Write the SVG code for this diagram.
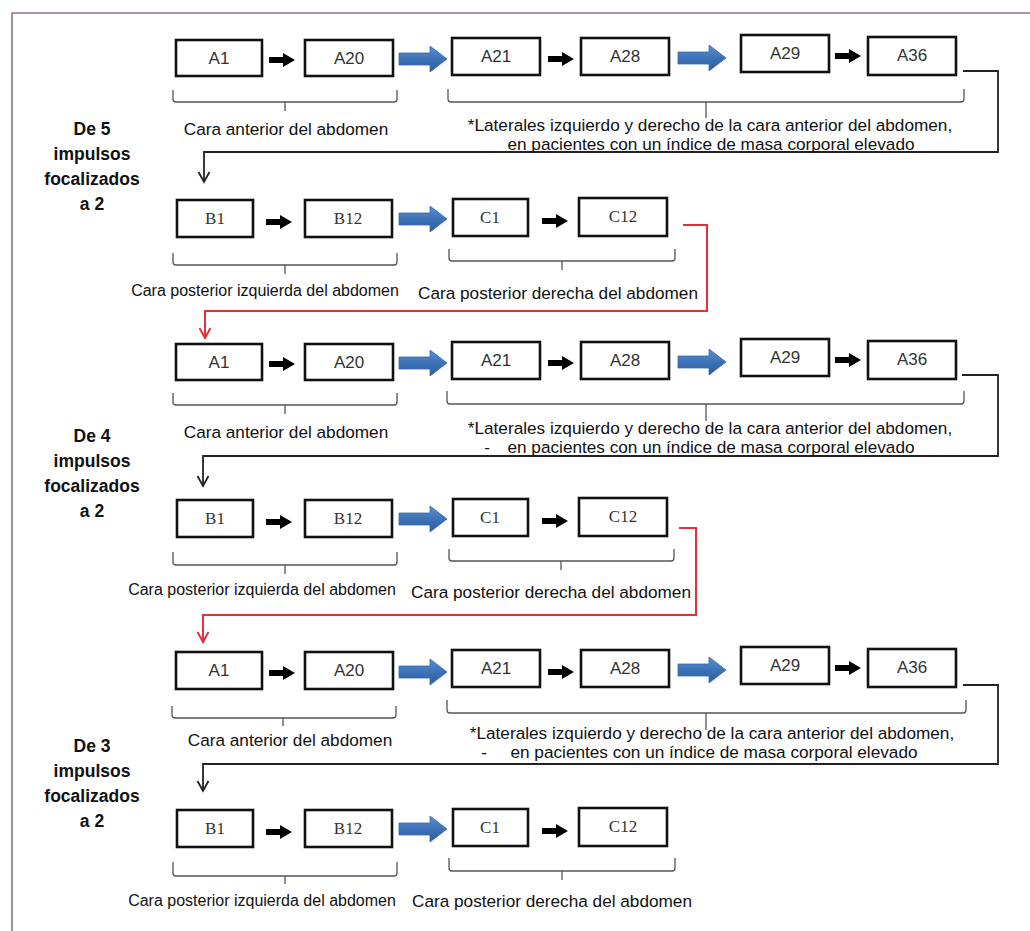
<svg xmlns="http://www.w3.org/2000/svg" width="1030" height="931" viewBox="0 0 1030 931">
<style>
.box{fill:#fff;stroke:#111;stroke-width:2.6}
.la{font-family:"Liberation Sans",Arial,sans-serif;font-size:17px;fill:#333;text-anchor:middle}
.lb{font-family:"Liberation Serif","Times New Roman",serif;font-size:17px;fill:#333;text-anchor:middle}
.cap{font-family:"Liberation Sans",Arial,sans-serif;font-size:17.2px;fill:#111;text-anchor:middle}
.caps{font-family:"Liberation Sans",Arial,sans-serif;font-size:16px;fill:#111;text-anchor:middle}
.side{font-family:"Liberation Sans",Arial,sans-serif;font-weight:bold;font-size:17.5px;fill:#111;text-anchor:middle}
.br{fill:none;stroke:#555;stroke-width:1.3}
.conn{fill:none;stroke:#222;stroke-width:1.8}
.red{fill:none;stroke:#e3303a;stroke-width:2}
.ba{fill:#000}
.bl{fill:url(#blg);stroke:#3a6aa8;stroke-width:0.8}
</style>
<defs>
<linearGradient id="blg" x1="0" y1="0" x2="0" y2="1">
<stop offset="0" stop-color="#5b8fd0"/>
<stop offset="0.5" stop-color="#3d72b8"/>
<stop offset="1" stop-color="#2c5c9c"/>
</linearGradient>
<path id="bArrow" d="M0,-3 H14 V-7 L26,0 L14,7 V3 H0 Z"/>
<path id="blArrow" d="M0,-6 H31 V-13 L48,0 L31,13 V6 H0 Z"/>
<marker id="mk" markerUnits="userSpaceOnUse" markerWidth="14" markerHeight="14" viewBox="-12 -7 14 14" refX="0" refY="0" orient="auto">
<path d="M-10,-5.5 L0,0 L-10,5.5" fill="none" stroke="#222" stroke-width="1.8"/>
</marker>
<marker id="mkr" markerUnits="userSpaceOnUse" markerWidth="14" markerHeight="14" viewBox="-12 -7 14 14" refX="0" refY="0" orient="auto">
<path d="M-10,-5.5 L0,0 L-10,5.5" fill="none" stroke="#e3303a" stroke-width="2"/>
</marker>
</defs>

<rect width="1030" height="931" fill="#fff"/>
<path d="M12,931 V13 H1030" fill="none" stroke="#8e6f86" stroke-width="1.6"/>

<!-- Section 1 row A -->
<g id="s1-A1"><rect class="box" x="176" y="40" width="86" height="36"/><text class="la" x="219" y="64">A1</text></g>
<g id="s1-A20"><rect class="box" x="305" y="40" width="88" height="36"/><text class="la" x="349" y="64">A20</text></g>
<g id="s1-A21"><rect class="box" x="452" y="38" width="88" height="37"/><text class="la" x="496" y="62">A21</text></g>
<g id="s1-A28"><rect class="box" x="581" y="38" width="88" height="37"/><text class="la" x="625" y="62">A28</text></g>
<g id="s1-A29"><rect class="box" x="741" y="35" width="88" height="37"/><text class="la" x="785" y="59">A29</text></g>
<g id="s1-A36"><rect class="box" x="868" y="37" width="88" height="38"/><text class="la" x="912" y="61">A36</text></g>
<!-- Section 1 row B -->
<g id="s1-B1"><rect class="box" x="177" y="200" width="76" height="37"/><text class="lb" x="215" y="224">B1</text></g>
<g id="s1-B12"><rect class="box" x="305" y="200" width="87" height="37"/><text class="lb" x="348" y="224">B12</text></g>
<g id="s1-C1"><rect class="box" x="453" y="199" width="75" height="37"/><text class="lb" x="490" y="223">C1</text></g>
<g id="s1-C12"><rect class="box" x="579" y="198" width="88" height="38"/><text class="lb" x="623" y="222">C12</text></g>

<!-- Section 2 row A -->
<g id="s2-A1"><rect class="box" x="176" y="344" width="86" height="36"/><text class="la" x="219" y="368">A1</text></g>
<g id="s2-A20"><rect class="box" x="305" y="344" width="88" height="36"/><text class="la" x="349" y="368">A20</text></g>
<g id="s2-A21"><rect class="box" x="452" y="342" width="88" height="37"/><text class="la" x="496" y="366">A21</text></g>
<g id="s2-A28"><rect class="box" x="581" y="342" width="88" height="37"/><text class="la" x="625" y="366">A28</text></g>
<g id="s2-A29"><rect class="box" x="741" y="339" width="88" height="37"/><text class="la" x="785" y="363">A29</text></g>
<g id="s2-A36"><rect class="box" x="868" y="341" width="88" height="38"/><text class="la" x="912" y="365">A36</text></g>
<!-- Section 2 row B -->
<g id="s2-B1"><rect class="box" x="177" y="500" width="76" height="37"/><text class="lb" x="215" y="524">B1</text></g>
<g id="s2-B12"><rect class="box" x="305" y="500" width="87" height="37"/><text class="lb" x="348" y="524">B12</text></g>
<g id="s2-C1"><rect class="box" x="453" y="499" width="75" height="37"/><text class="lb" x="490" y="523">C1</text></g>
<g id="s2-C12"><rect class="box" x="579" y="498" width="88" height="38"/><text class="lb" x="623" y="522">C12</text></g>

<!-- Section 3 row A -->
<g id="s3-A1"><rect class="box" x="176" y="652" width="86" height="37"/><text class="la" x="219" y="676">A1</text></g>
<g id="s3-A20"><rect class="box" x="305" y="652" width="88" height="37"/><text class="la" x="349" y="676">A20</text></g>
<g id="s3-A21"><rect class="box" x="452" y="650" width="88" height="37"/><text class="la" x="496" y="674">A21</text></g>
<g id="s3-A28"><rect class="box" x="581" y="650" width="88" height="37"/><text class="la" x="625" y="674">A28</text></g>
<g id="s3-A29"><rect class="box" x="741" y="647" width="88" height="37"/><text class="la" x="785" y="671">A29</text></g>
<g id="s3-A36"><rect class="box" x="868" y="649" width="88" height="38"/><text class="la" x="912" y="673">A36</text></g>
<!-- Section 3 row B -->
<g id="s3-B1"><rect class="box" x="177" y="810" width="76" height="37"/><text class="lb" x="215" y="834">B1</text></g>
<g id="s3-B12"><rect class="box" x="305" y="810" width="87" height="37"/><text class="lb" x="348" y="834">B12</text></g>
<g id="s3-C1"><rect class="box" x="453" y="809" width="75" height="37"/><text class="lb" x="490" y="833">C1</text></g>
<g id="s3-C12"><rect class="box" x="579" y="808" width="88" height="38"/><text class="lb" x="623" y="832">C12</text></g>

<g id="connectors">
<!-- small black arrows -->
<use href="#bArrow" class="ba" x="269" y="60"/>
<use href="#bArrow" class="ba" x="548" y="59"/>
<use href="#bArrow" class="ba" x="835" y="56"/>
<use href="#bArrow" class="ba" x="266" y="222"/>
<use href="#bArrow" class="ba" x="542" y="221"/>
<use href="#bArrow" class="ba" x="269" y="364"/>
<use href="#bArrow" class="ba" x="548" y="363"/>
<use href="#bArrow" class="ba" x="835" y="360"/>
<use href="#bArrow" class="ba" x="266" y="522"/>
<use href="#bArrow" class="ba" x="542" y="521"/>
<use href="#bArrow" class="ba" x="269" y="673"/>
<use href="#bArrow" class="ba" x="548" y="672"/>
<use href="#bArrow" class="ba" x="835" y="668"/>
<use href="#bArrow" class="ba" x="266" y="832"/>
<use href="#bArrow" class="ba" x="542" y="831"/>
<!-- blue arrows -->
<use href="#blArrow" class="bl" x="399" y="59"/>
<use href="#blArrow" class="bl" x="678" y="58"/>
<use href="#blArrow" class="bl" x="399" y="219"/>
<use href="#blArrow" class="bl" x="399" y="363"/>
<use href="#blArrow" class="bl" x="678" y="362"/>
<use href="#blArrow" class="bl" x="399" y="519"/>
<use href="#blArrow" class="bl" x="399" y="672"/>
<use href="#blArrow" class="bl" x="678" y="670"/>
<use href="#blArrow" class="bl" x="399" y="829"/>
<!-- return connectors -->
<path class="conn" d="M963,71 H998 V152 H204 V182" marker-end="url(#mk)"/>
<path class="red" d="M683,225 H707 V311 H205 V338" marker-end="url(#mkr)"/>
<path class="conn" d="M962,375 H998 V456 H203 V486" marker-end="url(#mk)"/>
<path class="red" d="M679,528 H696 V615 H203 V642" marker-end="url(#mkr)"/>
<path class="conn" d="M963,685 H998 V764 H203 V791" marker-end="url(#mk)"/>
</g>

<g id="brackets">
<path class="br" d="M173,90 V99 Q173,102 176,102 H394 Q397,102 397,99 V90 M285,102 V111"/>
<path class="br" d="M448,89 V99 Q448,102 451,102 H961 Q964,102 964,99 V89 M706,102 V118"/>
<path class="br" d="M173,253 V262 Q173,265 176,265 H394 Q397,265 397,262 V253 M285,265 V274"/>
<path class="br" d="M449,249 V258 Q449,261 452,261 H672 Q675,261 675,258 V249 M562,261 V270"/>
<path class="br" d="M173,393 V402 Q173,405 176,405 H394 Q397,405 397,402 V393 M285,405 V414"/>
<path class="br" d="M447,391 V401 Q447,404 450,404 H961 Q964,404 964,401 V391 M706,404 V421"/>
<path class="br" d="M173,552 V562 Q173,565 176,565 H394 Q397,565 397,562 V552 M285,565 V574"/>
<path class="br" d="M449,549 V558 Q449,561 452,561 H671 Q674,561 674,558 V549 M561,561 V570"/>
<path class="br" d="M172,706 V715 Q172,718 175,718 H393 Q396,718 396,715 V706 M283,718 V726"/>
<path class="br" d="M447,700 V710 Q447,713 450,713 H963 Q966,713 966,710 V700 M706,713 V730"/>
<path class="br" d="M173,862 V873 Q173,876 176,876 H394 Q397,876 397,873 V862 M285,876 V884"/>
<path class="br" d="M449,858 V868 Q449,871 452,871 H672 Q675,871 675,868 V858 M562,871 V880"/>
</g>

<g id="labels">
<text class="side" x="92" y="135">De 5</text>
<text class="side" x="92" y="160">impulsos</text>
<text class="side" x="92" y="185">focalizados</text>
<text class="side" x="92" y="210">a 2</text>
<text class="side" x="92" y="442">De 4</text>
<text class="side" x="92" y="467">impulsos</text>
<text class="side" x="92" y="492">focalizados</text>
<text class="side" x="92" y="517">a 2</text>
<text class="side" x="92" y="752">De 3</text>
<text class="side" x="92" y="777">impulsos</text>
<text class="side" x="92" y="802">focalizados</text>
<text class="side" x="92" y="827">a 2</text>

<text class="cap" x="286" y="135">Cara anterior del abdomen</text>
<text class="cap" x="710" y="131">*Laterales izquierdo y derecho de la cara anterior del abdomen,</text>
<text class="cap" x="711" y="149.5">en pacientes con un índice de masa corporal elevado</text>
<text class="caps" x="265" y="296">Cara posterior izquierda del abdomen</text>
<text class="cap" x="558" y="299">Cara posterior derecha del abdomen</text>

<text class="cap" x="286" y="438">Cara anterior del abdomen</text>
<text class="cap" x="710" y="434">*Laterales izquierdo y derecho de la cara anterior del abdomen,</text>
<text class="cap" x="487" y="452.5">-</text>
<text class="cap" x="711" y="452.5">en pacientes con un índice de masa corporal elevado</text>
<text class="caps" x="262" y="595">Cara posterior izquierda del abdomen</text>
<text class="cap" x="551" y="598">Cara posterior derecha del abdomen</text>

<text class="cap" x="290" y="746">Cara anterior del abdomen</text>
<text class="cap" x="712" y="739">*Laterales izquierdo y derecho de la cara anterior del abdomen,</text>
<text class="cap" x="484" y="757.5">-</text>
<text class="cap" x="714" y="757.5">en pacientes con un índice de masa corporal elevado</text>
<text class="caps" x="262" y="906">Cara posterior izquierda del abdomen</text>
<text class="cap" x="552" y="907">Cara posterior derecha del abdomen</text>
</g>
</svg>
